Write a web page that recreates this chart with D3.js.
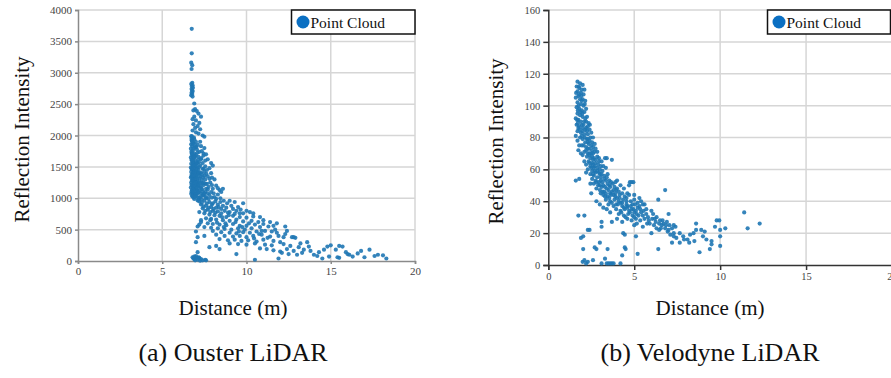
<!DOCTYPE html>
<html>
<head>
<meta charset="utf-8">
<script src="https://cdn.jsdelivr.net/npm/d3@7/dist/d3.min.js"></script>
<style>
  body { margin: 0; background: #fff; }
  svg { display: block; }
  .grid line { stroke: #d6d6d6; stroke-width: 1.5; }
</style>
</head>
<body>
<div id="chart"></div>
<script>
const width = 891;
const height = 378;
const serif = "Liberation Serif";

const xTicks = [0, 5, 10, 15, 20];
const ousterYTicks = [0, 500, 1000, 1500, 2000, 2500, 3000, 3500, 4000];
const velodyneYTicks = [0, 20, 40, 60, 80, 100, 120, 140, 160];
const legendLabel = "Point Cloud";
const yTitle = "Reflection Intensity";
const xTitle = "Distance (m)";
const captions = ["(a) Ouster LiDAR", "(b) Velodyne LiDAR"];

// Ouster: [distance, intensity]
const ousterPoints = [
  [6.75,3700],[6.75,3310],[6.72,3160],[6.78,3120],[6.74,3060],[6.78,2840],[6.72,2820],[6.8,2800],[6.76,2780],
  [6.82,2760],[6.74,2740],[6.78,2720],[6.8,2700],[6.74,2680],[6.78,2660],[6.72,2640],[6.8,2620],[6.9,2510],
  [6.95,2420],[6.85,2400],[7.05,2390],[7.15,2350],[7.3,2300],[6.9,2300],[6.8,2260],[7.0,2240],[7.2,2200],
  [6.85,2180],[7.1,2150],[6.95,2120],[7.25,2100],[6.8,2080],[7.4,2000],[7.5,1980],[7.0,2050],[7.15,2030],
  [6.72,1990],[6.8,1960],[6.9,1940],[6.75,1920],[7.0,1900],[6.85,1880],[6.72,1860],[7.1,1850],[6.78,1830],
  [6.95,1810],[6.7,1790],[7.05,1780],[6.82,1760],[7.2,1740],[6.74,1720],[6.9,1710],[7.0,1690],[6.78,1670],
  [7.15,1660],[6.7,1650],[6.88,1630],[7.3,1620],[6.76,1600],[7.0,1590],[6.84,1570],[7.1,1560],[6.72,1550],
  [6.95,1540],[7.25,1520],[6.8,1510],[7.05,1500],[6.7,1490],[6.9,1480],[7.4,1470],[6.78,1460],[7.15,1450],
  [6.86,1440],[7.0,1430],[6.72,1420],[7.3,1410],[6.94,1400],[6.8,1390],[7.1,1380],[6.74,1370],[7.5,1360],
  [6.88,1350],[7.02,1340],[6.7,1330],[7.2,1320],[6.82,1310],[6.96,1300],[7.35,1290],[6.76,1280],[7.08,1270],
  [6.9,1260],[6.72,1250],[7.25,1240],[6.84,1230],[7.0,1220],[7.45,1210],[6.78,1200],[7.12,1190],[6.92,1180],
  [6.7,1170],[7.3,1160],[6.86,1150],[7.04,1140],[6.76,1130],[7.2,1120],[6.95,1110],[7.55,1100],[6.8,1090],
  [7.1,1080],[6.72,1070],[6.9,1060],[7.4,1050],[7.0,1040],[6.78,1030],[7.25,1020],[6.85,1010],[7.6,1000],
  [6.9,990],[7.15,980],[6.74,1945],[6.8,1875],[6.74,1745],[6.82,1685],[6.74,1615],[6.8,1535],[6.74,1465],
  [6.82,1405],[6.74,1345],[6.8,1295],[6.74,1215],[6.82,1165],[6.74,1105],[6.8,1045],[6.95,1665],[7.05,1475],
  [6.98,1355],[7.1,1235],[6.96,1075],[7.08,1125],[7.18,1575],[7.22,1395],[7.28,1185],[7.12,1015],
  [6.76,1985],[6.88,1965],[6.78,1905],[6.92,1855],[7.02,1815],[6.86,1795],[6.76,1705],[7.08,1725],[6.9,1655],
  [7.12,1615],[6.84,1595],[7.02,1555],[6.92,1515],[7.18,1495],[6.82,1475],[7.06,1425],[6.9,1415],[7.16,1395],
  [6.86,1365],[7.26,1345],[7.08,1315],[6.88,1285],[7.18,1265],[6.98,1245],[7.38,1235],[7.14,1205],[6.9,1195],
  [7.06,1165],[7.36,1145],[7.16,1095],[6.86,1115],[7.3,1075],[7.0,1065],[7.46,1045],[7.2,1005],[6.96,1025],
  [7.35,985],[7.1,965],[7.3,1830],[7.25,1900],[7.45,1710],[7.32,1640],[7.55,1510],[7.45,1470],[7.62,1390],
  [7.42,1330],[7.8,1310],[7.58,1230],[7.95,1210],[7.7,1140],[7.4,1110],[8.05,1080],[7.5,1070],[7.95,1010],
  [7.6,1020],[8.2,990],[7.75,990],[8.45,1000],
  [7.5,1800],[7.6,1700],[7.45,1680],[7.35,1750],[7.7,1620],[7.55,1600],[7.9,1560],[8.0,1520],[7.8,1480],
  [7.4,1560],[7.65,1450],[7.5,1420],[7.9,1400],[7.35,1380],[7.7,1350],[8.1,1300],[7.55,1300],[7.85,1250],
  [8.2,1200],[7.45,1250],[7.75,1180],[8.0,1150],[8.4,1130],[8.6,1150],[8.5,1100],[7.6,1150],[7.9,1100],
  [8.3,1060],[7.8,1050],[8.1,1020],[7.65,1230],[7.95,1330],[8.3,1160],[7.7,1080],
  [7.2,950],[7.5,960],[7.8,940],[8.0,920],[8.3,900],[8.6,880],[9.0,960],[9.3,940],[9.8,920],[7.3,900],
  [7.6,880],[7.9,860],[8.2,850],[8.5,830],[8.8,850],[9.1,880],[9.5,860],[7.4,840],[7.7,820],[8.0,800],
  [8.3,790],[8.7,800],[9.0,780],[9.4,800],[9.8,760],[10.2,780],[7.2,780],[7.5,760],[7.8,740],[8.1,730],
  [8.4,720],[8.8,700],[9.2,720],[9.6,700],[10.0,690],[10.4,710],[7.6,680],[7.9,670],[8.2,660],[8.6,650],
  [9.0,640],[9.4,660],[9.8,630],[10.3,640],[10.7,620],[7.3,620],[7.7,600],[8.0,590],[8.4,580],[8.8,570],
  [9.2,590],[9.6,560],[10.0,560],[10.5,580],[11.0,590],[7.1,550],[7.5,540],[7.9,530],[8.3,520],[8.7,510],
  [9.1,500],[9.5,520],[9.9,500],[10.3,520],[10.8,540],[11.3,550],[11.7,500],[8.0,480],[8.5,460],[9.0,450],
  [9.4,440],[9.8,460],[10.2,450],[10.6,470],[11.1,480],[11.5,470],[8.2,420],[8.7,400],[9.2,390],[9.6,400],
  [10.0,380],[10.4,400],[10.9,420],[11.4,390],[11.9,400],[12.3,430],[8.4,350],[8.9,330],[9.3,340],[9.7,320],
  [10.1,330],[10.6,310],[11.0,340],[11.6,320],[12.0,300],[9.0,280],[9.5,270],[10.0,260],[10.5,280],[11.1,260],
  [11.5,250],[12.2,270],[12.6,240],[12.9,370],[13.2,280],[7.95,900],[8.45,940],[8.15,770],[8.55,700],
  [8.95,730],[9.35,620],[8.25,610],[8.65,540],[9.75,540],[10.15,600],[7.85,650],[8.75,600],[9.55,470],
  [10.45,360],[10.75,430],[11.25,370],[7.35,930],[7.65,920],[8.15,950],[8.65,960],[8.85,920],[7.45,870],
  [7.75,850],[8.05,830],[8.35,860],[9.2,830],[9.65,820],[10.0,800],[7.55,800],[7.85,780],[8.5,760],[8.9,770],
  [9.3,750],[9.6,760],[10.4,760],[10.8,700],[11.0,650],[11.4,620],[11.8,600],[12.3,550],[11.6,560],[10.9,480],
  [11.8,450],[12.4,480],[12.8,380],
  [7.3,650],[7.2,580],[7.0,470],[7.1,380],[7.0,300],[7.1,140],[7.8,220],[8.2,240],[8.4,190],[9.4,110],
  [10.5,20],[7.5,400],
  [10.8,200],[11.2,190],[11.6,170],[12.0,150],[12.4,190],[12.8,160],[13.1,220],[13.4,180],[13.7,230],
  [13.3,130],[13.8,160],[14.0,100],[14.3,140],[14.6,180],[14.8,230],[15.0,250],[15.3,180],[15.5,240],
  [15.7,230],[15.9,140],[16.1,100],[16.3,70],[16.6,120],[16.8,160],[17.0,60],[17.3,180],[17.6,80],
  [17.8,100],[18.1,90],[18.3,40],[14.5,40],[14.2,80],[13.0,100],[12.5,110],[11.9,40],[14.9,70],[15.5,50],
  [12.1,130],[12.2,380],[12.7,380],[13.6,300],[16.0,110],[15.4,60],
  [6.8,60],[6.9,30],[7.0,80],[7.1,20],[7.2,50],[6.95,10],[7.3,30],[7.4,10],[7.55,20],[6.85,40],[7.05,50],
  [7.25,5],[7.6,10],[6.9,70],[7.15,60]
];

// Velodyne: [distance, intensity]
const velodynePoints = [
  [1.7,115],[1.85,114],[2.0,113],[1.65,112],[1.8,111],[1.95,110],[2.1,110],[1.7,109],[1.9,108],[2.05,107],
  [1.75,106],[1.6,105],[1.85,104],[2.0,104],[2.15,103],[1.7,102],[1.9,101],[2.05,100],[1.65,99],[1.8,98],
  [2.2,98],[1.95,97],[2.1,96],[1.7,95],[1.85,94],[2.0,93],[2.25,93],[1.6,92],[1.75,91],[1.9,90],[2.1,90],
  [2.35,89],[1.65,88],[1.8,87],[2.0,86],[2.2,86],[2.4,85],[1.7,84],[1.9,83],[2.1,82],[2.3,82],[1.6,81],
  [1.85,80],[2.0,79],[2.25,79],[2.45,80],[1.7,78],[2.15,77],[2.35,76],[2.55,77],[1.95,75],[2.2,74],[2.4,73],
  [2.6,74],[1.75,72],[2.1,71],[2.3,70],[2.5,70],[2.7,71],[2.0,69],[2.25,68],[2.45,67],[2.65,67],[2.85,68],
  [2.35,65],[2.55,64],[2.75,64],[2.95,65],[2.2,63],[2.45,62],[2.65,61],[2.85,61],[3.05,62],[2.3,60],
  [2.55,59],[2.75,58],[2.95,58],[3.15,59],[2.45,57],[2.65,56],[2.85,55],[3.05,55],[3.25,56],[3.45,57],
  [2.55,54],[2.75,53],[2.95,52],[3.15,52],[3.35,53],[2.65,51],[2.9,50],[3.1,49],[3.3,49],[3.55,50],
  [3.75,51],[2.8,48],[3.0,47],[3.25,46],[3.5,47],[3.7,46],[3.95,47],[3.2,44],[3.45,43],[3.65,44],[3.9,43],
  [4.15,44],[3.35,41],[3.6,40],[3.85,41],[4.1,40],[4.35,41],[4.55,42],[3.5,38],[3.8,37],[4.05,38],[4.3,37],
  [4.55,38],[4.8,37],[3.95,35],[4.2,34],[4.45,35],[4.7,34],[4.95,35],[5.2,36],[4.1,32],[4.4,31],[4.65,32],
  [4.9,31],[5.15,32],[5.4,33],[4.6,29],[4.85,28],[5.1,29],[5.35,28],[5.6,29],
  [1.78,112],[1.92,106],[1.76,100],[1.98,95],[1.72,89],[2.05,88],[1.82,85],[2.25,84],[1.95,81],[2.12,80],
  [2.05,75],[2.3,77],[2.2,72],[2.38,69],[2.55,72],[2.6,66],[2.4,64],[2.7,62],[2.5,61],[2.85,59],[2.6,57],
  [3.0,57],[2.8,52],[3.05,53],[3.2,50],[3.0,50],[3.4,48],[3.15,46],[3.6,45],[3.35,45],[3.8,44],[3.55,42],
  [4.0,42],[3.7,39],[4.2,39],[3.95,38],[4.4,36],[4.6,36],[4.25,33],[4.75,33],[5.0,33],[4.5,30],[5.0,30],
  [1.62,108],[1.8,107],[1.95,103],[2.12,101],[1.72,97],[1.88,96],[2.15,92],[1.68,91],[1.95,88],[2.2,90],
  [2.42,88],[1.75,86],[2.3,87],[2.0,84],[2.5,83],[2.15,85],[2.3,79],[2.6,80],[2.4,78],[2.7,76],[2.5,75],
  [2.3,73],[2.75,73],[2.6,70],[2.85,71],[2.4,70],[2.55,68],[2.95,67],[2.75,66],[3.1,65],[2.9,63],[3.2,62],
  [2.6,63],[3.0,60],[3.35,61],[2.7,59],[3.1,57],[3.4,55],[3.25,54],[3.55,53],[3.45,51],[3.65,52],[3.6,49],
  [3.85,49],[4.0,48],[3.8,47],[4.1,46],[3.9,45],[4.3,45],[4.15,42],[4.45,43],[4.7,44],[4.3,39],[4.55,40],
  [4.8,40],[5.0,41],[4.6,37],[4.9,38],[5.05,38],[5.3,37],[4.85,35],[5.1,34],[5.35,35],[5.55,34],[5.25,31],
  [5.5,31],[5.7,32],[5.85,28],[6.05,29],[6.25,27],[6.45,26],[6.65,28],[6.85,25],[7.05,25],[7.4,24],[5.75,26],
  [6.15,25],[6.55,23],[6.95,21],[7.1,19],
  [3.4,67],[3.3,67],[3.7,66],[4.75,52],[4.95,52],[4.85,52],[4.7,50],[5.4,40],[5.5,38],[5.6,38],[6.0,34],
  [6.3,30],[6.5,28],[6.7,26],[6.9,27],[6.2,29],[6.6,25],[5.8,30],[6.1,32],[5.9,26],[5.5,24],[6.3,23],
  [5.3,42],[4.6,45],[4.4,48],[4.2,50],[4.0,53],[3.9,52],[5.0,44],[5.2,39],[5.7,35],[6.45,22],[7.0,22],
  [7.3,20],[6.8,23],[5.0,25],[5.15,26],
  [2.2,58],[2.1,65],[1.9,70],[1.8,75],[2.5,45],[2.8,40],[3.0,38],[3.4,35],[3.6,33],[3.2,36],[4.0,29],
  [4.3,27],[3.3,43],[3.05,45],[2.45,51],
  [1.6,53],[1.8,54],[1.75,31],[1.9,17],[2.03,18],[2.03,10],[2.3,22],[2.4,22],[2.7,11],[2.8,10],[2.6,3],
  [3.1,27],[3.1,24],[3.0,14],[3.45,10],[3.7,27],[3.3,4],[2.1,31],
  [2.0,2],[2.1,3],[2.2,1],[2.3,2],[3.4,1],[3.5,1],[3.6,1],[3.7,1],[3.8,1],[3.1,1],[4.2,1],
  [4.36,20],[4.45,19],[4.45,11],[4.5,10],[4.3,6],[5.2,7],[5.1,18],
  [6.8,47],[6.4,41],[6.0,20],[6.4,10],[7.0,32],
  [7.65,20],[7.85,18],[8.1,16],[8.25,19],[8.45,20],[8.6,22],[8.6,26],[8.9,22],[8.8,8],[9.0,18],[9.4,10],
  [9.5,13],[9.7,24],[9.8,28],[9.95,28],[10.0,22],[10.0,18],[10.0,12],[10.3,23],[11.4,33],[11.6,23],
  [12.3,26],[7.2,23],[7.3,25],[7.3,18],[7.2,14],[7.45,17],[7.65,14],[7.9,16],[8.2,14],[8.5,15],[9.2,16],
  [9.1,21],[9.5,15]
];

const svg = d3.select("#chart")
    .append("svg")
    .attr("width", width)
    .attr("height", height)
    .attr("font-family", serif);

const panels = [
  {
    points: ousterPoints,
    yTicks: ousterYTicks,
    x: d3.scaleLinear().domain([0, 20]).range([78, 415]),
    y: d3.scaleLinear().domain([0, 4000]).range([261, 10]),
    axisColor: "#8a8a8a",
    tickSize: 3,
    fontSize: 11,
    titleX: 29,
    center: 233,
    legend: { x: 291.5, w: 123.5 }
  },
  {
    points: velodynePoints,
    yTicks: velodyneYTicks,
    x: d3.scaleLinear().domain([0, 20]).range([548.3, 892]),
    y: d3.scaleLinear().domain([0, 160]).range([265, 10]),
    axisColor: "#333",
    tickSize: 5,
    fontSize: 10.5,
    titleX: 503,
    center: 710,
    legend: { x: 767.5, w: 123 }
  }
];

function drawPanel(p, i) {
  const g = svg.append("g");
  const [x0, x1] = p.x.range();
  const [y0, y1] = p.y.range();

  // gridlines
  const grid = g.append("g").attr("class", "grid");
  grid.selectAll(".h")
      .data(p.yTicks.slice(1))
      .join("line")
      .attr("x1", x0).attr("x2", x1)
      .attr("y1", d => p.y(d)).attr("y2", d => p.y(d));
  grid.selectAll(".v")
      .data(xTicks.slice(1))
      .join("line")
      .attr("x1", d => p.x(d)).attr("x2", d => p.x(d))
      .attr("y1", y0).attr("y2", y1);

  // axes
  const yAxis = g.append("g")
      .attr("transform", `translate(${x0},0)`)
      .call(d3.axisLeft(p.y).tickValues(p.yTicks).tickFormat(d3.format("d")).tickSize(p.tickSize).tickPadding(3));
  const xAxis = g.append("g")
      .attr("transform", `translate(0,${y0})`)
      .call(d3.axisBottom(p.x).tickValues(xTicks).tickFormat(d3.format("d")).tickSize(p.tickSize).tickPadding(3));
  [yAxis, xAxis].forEach(a => {
    a.attr("font-family", serif).attr("font-size", p.fontSize);
    a.selectAll("path, line").attr("stroke", p.axisColor).attr("stroke-width", 1.5);
    a.selectAll("text").attr("fill", "#444");
  });

  // points
  g.append("g")
      .selectAll("circle")
      .data(p.points)
      .join("circle")
      .attr("cx", d => p.x(d[0]))
      .attr("cy", d => p.y(d[1]))
      .attr("r", 2.1)
      .attr("fill", "#1f77b4")
      .attr("fill-opacity", 0.9);

  // legend
  const lg = g.append("g").attr("transform", `translate(${p.legend.x},${y1})`);
  lg.append("rect")
      .attr("width", p.legend.w)
      .attr("height", 24)
      .attr("fill", "#fff")
      .attr("stroke", "#111")
      .attr("stroke-width", 1.5);
  lg.append("circle")
      .attr("cx", 11.5)
      .attr("cy", 12)
      .attr("r", 6.5)
      .attr("fill", "#0a6fc2");
  lg.append("text")
      .attr("x", 19)
      .attr("y", 17.5)
      .attr("font-size", 15.5)
      .attr("fill", "#111")
      .text(legendLabel);

  // titles
  g.append("text")
      .attr("transform", `translate(${p.titleX},${(y0 + y1) / 2 + 4}) rotate(-90)`)
      .attr("text-anchor", "middle")
      .attr("font-size", 21)
      .attr("fill", "#111")
      .text(yTitle);
  g.append("text")
      .attr("x", p.center)
      .attr("y", 315)
      .attr("text-anchor", "middle")
      .attr("font-size", 21)
      .attr("fill", "#111")
      .text(xTitle);
  g.append("text")
      .attr("x", p.center)
      .attr("y", 361)
      .attr("text-anchor", "middle")
      .attr("font-size", 26)
      .attr("fill", "#111")
      .text(captions[i]);
}

panels.forEach(drawPanel);
</script>
</body>
</html>
